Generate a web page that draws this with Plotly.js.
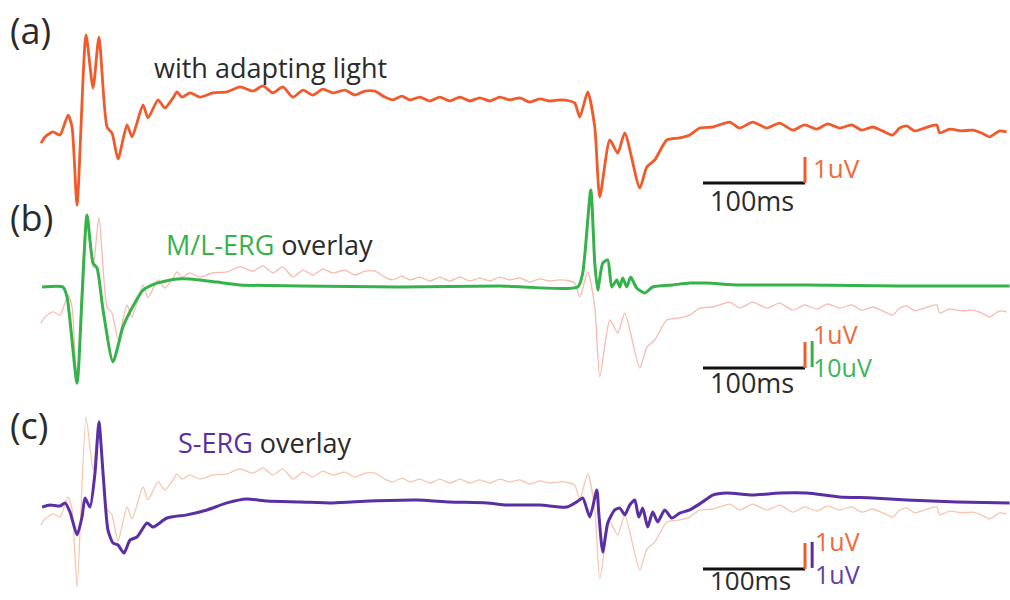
<!DOCTYPE html>
<html>
<head>
<meta charset="utf-8">
<script src="https://cdn.plot.ly/plotly-3.0.1.min.js"></script>
<style>html,body{margin:0;padding:0;background:#fff;}#chart{width:1010px;height:600px;}</style>
</head>
<body>
<div id="chart"></div>
<script>
// ---- Data (time in ms, amplitude in uV) ----
// (a) ERG with adapting light (also overlaid in b and c)
const timeAdapt = [1.0,4.9,12.7,19.6,27.5,31.4,36.3,45.1,52.0,57.8,65.7,70.6,76.5,85.3,90.2,101.0,105.9,115.7,122.5,130.4,134.3,139.2,147.1,156.9,169.6,183.3,196.1,208.8,218.6,228.4,238.1,248.0,257.8,267.5,277.3,287.1,298.9,308.7,318.5,328.3,338.1,345.9,354.8,362.6,372.4,382.2,392.0,401.8,411.6,421.4,431.2,441.0,450.8,460.6,470.4,480.2,490.0,499.8,509.6,519.4,524.3,529.2,537.0,543.9,548.8,558.6,566.4,573.3,588.0,594.9,602.7,614.5,627.2,637.0,646.8,659.5,676.2,686.0,698.7,712.5,725.2,738.0,749.7,761.5,772.3,784.0,795.8,805.6,816.3,826.1,835.9,842.8,849.7,857.5,867.3,879.1,882.0,891.8,903.6,914.3,923.2,931.0,940.8,947.7];
const uvAdapt = [-0.12,0.12,0.31,0.19,0.96,0.50,-2.50,4.04,2.00,3.96,0.50,0.27,-0.73,0.58,0.12,1.35,0.85,1.54,1.23,1.62,1.85,1.65,1.81,1.65,1.81,1.85,2.04,1.88,2.08,1.81,2.04,1.65,1.92,1.73,1.96,1.81,1.92,1.73,1.88,1.88,1.65,1.54,1.69,1.54,1.65,1.50,1.65,1.50,1.65,1.50,1.62,1.50,1.65,1.54,1.62,1.46,1.58,1.50,1.54,1.50,1.42,0.88,1.85,0.50,-2.19,0.00,-0.50,0.27,-1.85,-1.04,-0.77,0.00,0.08,0.19,0.46,0.50,0.69,0.46,0.69,0.46,0.65,0.38,0.58,0.42,0.62,0.46,0.58,0.38,0.50,0.35,0.19,0.46,0.54,0.35,0.46,0.58,0.27,0.42,0.35,0.38,0.27,0.12,0.35,0.31];

// (b) M/L-ERG
const timeML = [2.0,22.5,26.5,36.3,41.2,46.1,52.0,55.9,61.8,71.5,81.3,90.2,101.0,114.7,134.3,147.1,173.5,196.1,254.9,352.9,450.8,527.2,532.1,540.0,543.9,546.8,551.7,556.6,560.5,565.4,568.4,571.3,575.2,579.1,585.0,592.9,600.7,620.3,637.0,653.7,686.0,751.7,842.8,950.6];
const uvML = [0,0,-3.8,-36.9,-3.8,27.7,9.2,7.3,-8.8,-28.8,-15.4,-8.1,-1.2,1.5,3.1,3.1,1.9,0.8,0.4,0,0.4,0,5.4,37.3,9.2,-1.2,9.2,10.4,0,2.7,0,3.5,0,3.8,-0.4,-2.3,0,0.8,1.5,1.5,0.8,0.8,0.4,0.4];

// (c) S-ERG
const timeS = [2.0,9.8,19.6,24.5,29.4,36.3,41.2,44.1,49.0,53.9,57.8,61.8,66.6,71.5,76.5,82.3,88.2,95.1,104.9,110.7,124.5,144.1,163.7,183.3,202.9,222.5,254.9,287.1,323.4,369.5,401.8,438.1,457.7,490.0,516.5,526.3,532.1,539.0,545.9,547.8,551.7,556.6,563.5,568.4,573.3,578.2,583.1,587.0,590.9,595.8,600.7,605.6,612.5,619.4,627.2,637.0,649.7,659.5,673.3,698.7,725.2,751.7,784.0,816.3,849.7,898.7,950.6];
const uvS = [-0.08,0,-0.04,0.08,-0.27,-1.15,-0.46,0.27,-0.08,1.23,3.19,1.23,-0.96,-1.46,-1.54,-1.85,-1.35,-1.23,-0.69,-0.85,-0.50,-0.38,-0.19,0.08,0.23,0.15,0.12,0.08,0.15,0.19,0.12,0.08,0,0,-0.08,0.12,0.27,-0.46,0.58,-0.31,-1.81,-0.69,-0.19,-0.12,-0.38,0,0.19,-0.46,-0.12,-0.85,-0.27,-0.65,-0.19,-0.50,-0.31,-0.19,0.12,0.38,0.46,0.38,0.46,0.46,0.31,0.27,0.19,0.12,0.08];

// Scale bars
const scaleStartMs = 650;
const scaleLenMs = 100;
const scaleUvAdapt = 1;
const scaleUvML = 10;
const scaleUvS = 1;
const scaleLabels = {time: '100ms', adapt: '1uV', ml: '10uV', s: '1uV'};

// Panel texts
const panelLetters = ['(a)', '(b)', '(c)'];
const panelTitles = ['with adapting light', 'M/L-ERG', 'S-ERG', 'overlay'];

// ---- Layout helpers ----
const W = 1010, H = 600;
const pxPerMs = 1.02, t0px = 40;
const pxPerUv = 26;
const xRange = [-t0px / pxPerMs, (W - t0px) / pxPerMs];
function yRange(basePx, uvPerBar) {
  const k = pxPerUv / uvPerBar;
  return [(basePx - H) / k, basePx / k];
}
const baseA = 140, baseBo = 320, baseBg = 287, baseCo = 522, baseCs = 505;

const cOrange = '#f15a2b', cOverB = 'rgba(240,130,110,0.55)', cOverC = 'rgba(242,150,110,0.55)';
const cGreen = '#35b34a', cPurple = '#5a2fa3';
const cTxtOrange = '#f06a3c', cTxtGreen = '#3cb55a', cTxtPurple = '#6040a8';
const font = 'Open Sans, Noto Sans, sans-serif';

function ax(range) {
  return {range: range, visible: false, showgrid: false, zeroline: false, fixedrange: true, domain: [0, 1]};
}

const traces = [
  {x: timeAdapt, y: uvAdapt, yaxis: 'y', mode: 'lines', line: {color: cOrange, width: 2.8, shape: 'spline', smoothing: 0.6}},
  {x: timeAdapt, y: uvAdapt, yaxis: 'y2', mode: 'lines', line: {color: cOverB, width: 1.3, shape: 'spline', smoothing: 0.6}},
  {x: timeML, y: uvML, yaxis: 'y3', mode: 'lines', line: {color: cGreen, width: 3, shape: 'spline', smoothing: 0.6}},
  {x: timeAdapt, y: uvAdapt, yaxis: 'y4', mode: 'lines', line: {color: cOverC, width: 1.3, shape: 'spline', smoothing: 0.6}},
  {x: timeS, y: uvS, yaxis: 'y5', mode: 'lines', line: {color: cPurple, width: 3, shape: 'spline', smoothing: 0.6}}
];

// scale bar shapes (data coordinates)
function hbar(yref, yv) {
  return {type: 'line', xref: 'x', yref: yref, x0: scaleStartMs, x1: scaleStartMs + scaleLenMs, y0: yv, y1: yv, line: {color: '#111', width: 3}};
}
function vbar(yref, xv, yv, len, color) {
  return {type: 'line', xref: 'x', yref: yref, x0: xv, x1: xv, y0: yv, y1: yv + len, line: {color: color, width: 3}};
}
const endMs = scaleStartMs + scaleLenMs;
const shapes = [
  hbar('y', -1.65), vbar('y', endMs, -1.65, scaleUvAdapt, cOrange),
  hbar('y2', -1.85), vbar('y2', endMs, -1.85, scaleUvAdapt, cOrange), vbar('y3', endMs + 7, -30.8, scaleUvML, cGreen),
  hbar('y4', -1.81), vbar('y4', endMs, -1.81, scaleUvAdapt, cOrange), vbar('y5', endMs + 7, -2.42, scaleUvS, cPurple)
];

function ann(text, px, py, size, color, anchor) {
  return {text: text, xref: 'paper', yref: 'paper', x: px / W, y: 1 - py / H, xanchor: anchor || 'left', yanchor: 'middle',
    align: 'left', showarrow: false, font: {family: font, size: size, color: color}, borderpad: 0};
}
function span(t, c) { return '<span style="color:' + c + '">' + t + '</span>'; }
const dark = '#2b2b2b';
const annotations = [
  ann(panelLetters[0], 9, 30, 36, dark),
  ann(panelLetters[1], 9, 217, 36, dark),
  ann(panelLetters[2], 9, 425, 36, dark),
  ann(panelTitles[0], 153, 68, 27, dark),
  ann(span(panelTitles[1], cGreen) + ' ' + panelTitles[3], 165, 244, 27, dark),
  ann(span(panelTitles[2], cPurple) + ' ' + panelTitles[3], 177, 442, 27, dark),
  ann(scaleLabels.time, 709, 201, 27, dark),
  ann(scaleLabels.adapt, 812, 168, 26, cTxtOrange),
  ann(scaleLabels.time, 709, 382, 27, dark),
  ann(span(scaleLabels.adapt, cTxtOrange) + '<br>' + span(scaleLabels.ml, cTxtGreen), 812, 350, 25, cTxtOrange),
  ann(scaleLabels.time, 709, 580, 26, dark),
  ann(span(scaleLabels.adapt, cTxtOrange) + '<br>' + span(scaleLabels.s, cTxtPurple), 814, 557, 25, cTxtOrange)
];

const layout = {
  width: W, height: H, margin: {l: 0, r: 0, t: 0, b: 0},
  paper_bgcolor: '#fff', plot_bgcolor: '#fff', showlegend: false,
  xaxis: {range: xRange, visible: false, showgrid: false, zeroline: false, fixedrange: true},
  yaxis: ax(yRange(baseA, 1)),
  yaxis2: Object.assign(ax(yRange(baseBo, 1)), {overlaying: 'y'}),
  yaxis3: Object.assign(ax(yRange(baseBg, 10)), {overlaying: 'y'}),
  yaxis4: Object.assign(ax(yRange(baseCo, 1)), {overlaying: 'y'}),
  yaxis5: Object.assign(ax(yRange(baseCs, 1)), {overlaying: 'y'}),
  shapes: shapes, annotations: annotations,
  font: {family: font}
};

Plotly.newPlot('chart', traces, layout, {staticPlot: true, displayModeBar: false});
</script>
</body>
</html>
